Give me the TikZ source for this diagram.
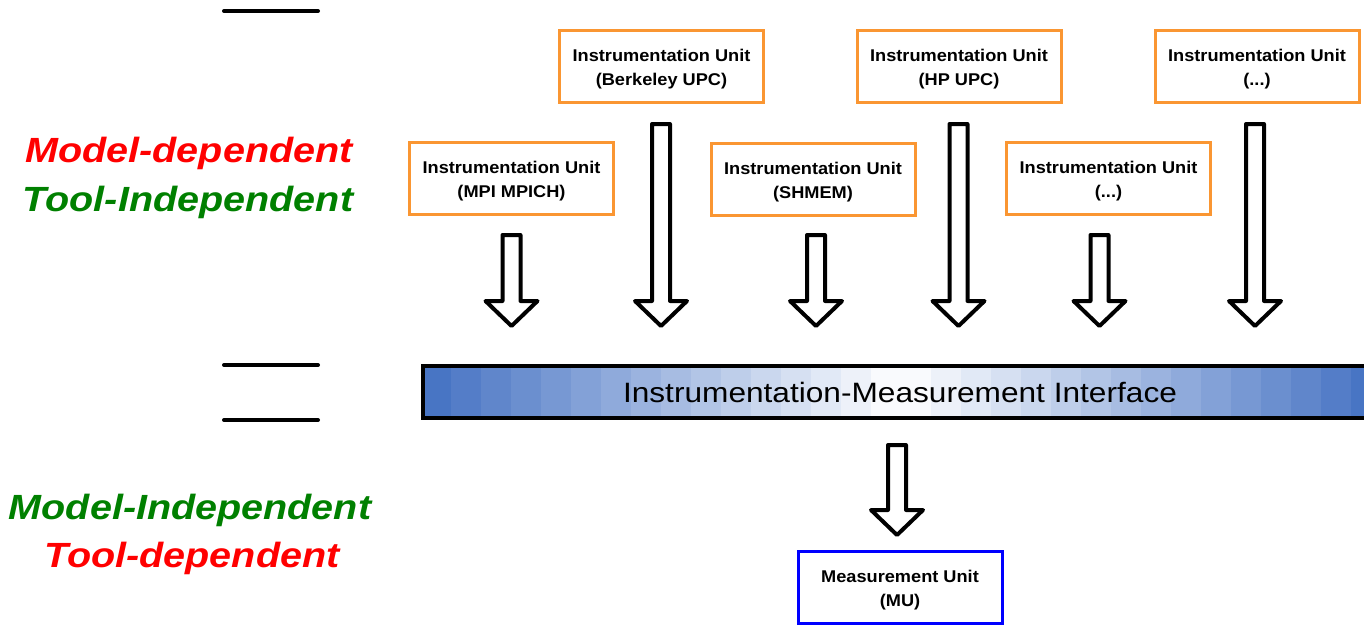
\documentclass[tikz,border=0pt]{standalone}
\usepackage{fontspec}
\setmainfont{Liberation Sans}
\usepackage{graphicx}
\definecolor{ourorange}{RGB}{250,150,50}
\definecolor{ourgreen}{RGB}{0,128,0}
\definecolor{ourred}{RGB}{255,0,0}
\definecolor{barblue}{RGB}{66,112,194}
\definecolor{mublue}{RGB}{0,0,255}
\newcommand{\widetext}[1]{\scalebox{1.13}[1]{#1}}
\newcommand{\boxtext}[1]{\scalebox{1.07}[1]{#1}}
\newcommand{\iu}[1]{\boxtext{Instrumentation Unit}\\\boxtext{(#1)}}
\newcommand{\blockarrow}[3]{%
  \draw[blockarrowstyle] (#1-9,#2) -- (#1+9,#2) -- (#1+9,#3-25) -- (#1+26,#3-25)
    -- (#1,#3) -- (#1-26,#3-25) -- (#1-9,#3-25) -- cycle;}
\begin{document}
\begin{tikzpicture}[x=1pt,y=-1pt,
  iubox/.style={draw=ourorange, line width=3pt, minimum width=204pt, minimum height=72pt,
    inner sep=0pt},
  iutext/.style={align=center, inner sep=0pt, font=\bfseries\fontsize{17}{24}\selectfont},
  mubox/.style={iubox, draw=mublue},
  bigred/.style={anchor=base, text=ourred, font=\bfseries\itshape\fontsize{35}{42}\selectfont},
  biggreen/.style={bigred, text=ourgreen},
  blockarrowstyle/.style={draw=black, fill=white, line width=4pt, line join=round},
  sepline/.style={draw=black, line width=4pt, line cap=round},
  imistyle/.style={draw=black, line width=4pt, minimum width=954pt, minimum height=52pt,
    inner sep=0pt, font=\fontsize{28}{34}\selectfont}]
\useasboundingbox (0,0) rectangle (1364,626);

% separator lines
\draw[sepline] (224,11) -- (318,11);
\draw[sepline] (224,365) -- (318,365);
\draw[sepline] (224,420) -- (318,420);

% side labels
\node[bigred]   (l1) at (189,162) {\widetext{Model-dependent}};
\node[biggreen] (l2) at (188,211) {\widetext{Tool-Independent}};
\node[biggreen] (l3) at (190,519) {\widetext{Model-Independent}};
\node[bigred]   (l4) at (192,567) {\widetext{Tool-dependent}};

% instrumentation units
\node[iubox] (bupc)  at (661.5,66.5) {};
\node[iubox] (hpupc) at (959,66.5)   {};
\node[iubox] (dots1) at (1257,66.5)  {};
\node[iubox] (mpi)   at (511.5,178)  {};
\node[iubox] (shmem) at (813,179)    {};
\node[iubox] (dots2) at (1108.5,178) {};
\node[iutext] (bupct)  at ([yshift=-3pt]bupc.center)  {\iu{Berkeley UPC}};
\node[iutext] (hpupct) at ([yshift=-3pt]hpupc.center) {\iu{HP UPC}};
\node[iutext] (dots1t) at ([yshift=-3pt]dots1.center) {\iu{...}};
\node[iutext] (mpit)   at ([yshift=-3pt]mpi.center)   {\iu{MPI MPICH}};
\node[iutext] (shmemt) at ([yshift=-3pt]shmem.center) {\iu{SHMEM}};
\node[iutext] (dots2t) at ([yshift=-3pt]dots2.center) {\iu{...}};

% block arrows
\blockarrow{511.5}{235}{326}
\blockarrow{661}{124}{326}
\blockarrow{816}{235}{326}
\blockarrow{958.5}{124}{326}
\blockarrow{1099.5}{235}{326}
\blockarrow{1255}{124}{326}

% interface bar
\foreach \i in {0,...,31} {
  \pgfmathsetmacro\m{100*(1-abs(436+30*\i-901)/480)}
  \fill[white!\m!barblue] (421+30*\i,366) rectangle ++(30.5,52);
}
\node[imistyle] (imi) at (900,392) {\widetext{Instrumentation-Measurement Interface}};

\blockarrow{897}{445}{535}

% measurement unit
\node[mubox] (mu) at (900,587.5) {};
\node[iutext] (mut) at ([yshift=-3pt]mu.center) {\boxtext{Measurement Unit}\\\boxtext{(MU)}};
\end{tikzpicture}
\end{document}
